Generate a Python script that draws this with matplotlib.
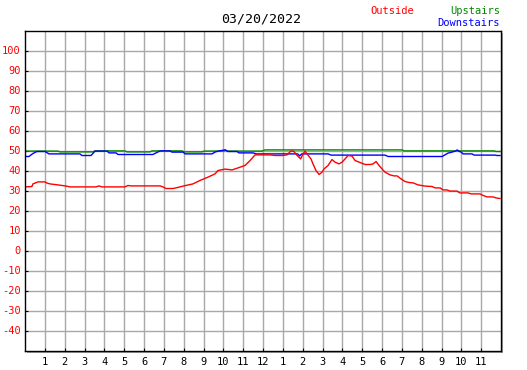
import matplotlib
matplotlib.use("Agg")
import matplotlib.pyplot as plt
from matplotlib.patches import Rectangle
from matplotlib.transforms import ScaledTranslation

title = "03/20/2022"

out_hours = [0.0, 0.35, 0.40, 0.66, 1.01, 1.11, 1.26, 1.66, 2.02, 2.27, 3.58, 3.73, 3.88,
             5.04, 5.19, 5.35, 6.81, 6.96, 7.11, 7.46, 7.61, 7.97, 8.47, 8.82, 9.23, 9.58,
             9.73, 10.09, 10.44, 10.74, 11.09, 11.35, 11.60, 12.35, 12.61, 12.96, 13.21,
             13.41, 13.56, 13.72, 13.90, 14.02, 14.12, 14.22, 14.42, 14.52, 14.67, 14.83,
             14.98, 15.08, 15.28, 15.48, 15.63, 15.83, 15.99, 16.14, 16.29, 16.49, 16.64,
             16.84, 17.15, 17.40, 17.55, 17.70, 17.85, 18.00, 18.15, 18.41, 18.61, 18.76,
             18.96, 19.16, 19.36, 19.57, 19.82, 20.17, 20.52, 20.68, 20.93, 21.08, 21.28,
             21.43, 21.78, 21.93, 22.34, 22.49, 22.94, 23.10, 23.30, 23.60, 23.75, 23.95]
out_vals = [31.8, 32.0, 33.3, 34.3, 34.3, 33.7, 33.3, 32.8, 32.3, 31.8, 31.8, 32.3, 31.8,
            31.8, 32.5, 32.3, 32.3, 31.8, 31.0, 31.0, 31.3, 32.2, 33.3, 35.0, 36.7, 38.3,
            40.0, 40.7, 40.3, 41.3, 42.5, 45.0, 47.8, 47.8, 47.5, 47.5, 47.8,
            49.8, 49.5, 47.5, 45.8, 48.3, 49.7, 48.3, 45.8, 43.3, 40.0, 38.0,
            39.2, 40.8, 42.5, 45.5, 44.2, 43.3, 44.2, 45.8, 47.5, 47.2, 45.0,
            44.2, 43.0, 43.0, 43.3, 44.5, 42.5, 40.8, 39.2, 37.8, 37.3, 37.3,
            35.8, 34.5, 34.0, 33.8, 32.8, 32.2, 32.0, 31.3, 31.3, 30.3, 30.3,
            29.7, 29.7, 28.8, 28.8, 28.3, 28.3, 27.5, 26.8, 26.8, 26.3, 26.0]

down_hours = [0.0, 0.2, 0.4, 0.6, 1.01, 1.21, 2.77, 2.87, 3.33, 3.53, 4.14, 4.24, 4.59,
              4.69, 6.45, 6.61, 6.81, 7.31, 7.41, 7.97, 8.07, 9.43, 9.58, 9.73, 10.09,
              10.24, 10.69, 10.79, 11.50, 11.65, 13.75, 13.85, 13.95, 15.28, 15.43,
              18.15, 18.31, 21.03, 21.33, 21.53, 21.78, 21.99, 22.09, 22.54, 22.64,
              23.70, 23.80, 23.95]
down_vals = [47.0, 47.0, 48.5, 49.5, 49.5, 48.3, 48.3, 47.5, 47.5, 49.7, 49.7, 48.8, 48.8,
             48.0, 48.0, 48.8, 49.8, 49.8, 49.2, 49.2, 48.3, 48.3, 49.2, 49.7, 50.3,
             49.5, 49.5, 48.8, 48.8, 48.3, 48.3, 47.3, 48.3, 48.3, 47.7,
             47.7, 47.0, 47.0, 48.7, 49.2, 50.0, 49.2, 48.3, 48.3, 47.7,
             47.7, 47.5, 47.5]

up_hours = [0.0, 1.66, 1.76, 3.43, 3.53, 5.04, 5.14, 6.30, 6.40, 7.92, 8.02, 8.93, 9.03,
            10.04, 10.09, 10.19, 11.95, 12.10, 19.01, 19.11, 21.73, 21.78, 21.89, 23.65,
            23.75, 23.95]
up_vals = [49.7, 49.7, 49.3, 49.3, 49.8, 49.8, 49.3, 49.3, 49.8, 49.8, 49.3, 49.3, 49.7,
           49.7, 50.3, 49.7, 49.7, 50.3, 50.3, 49.8, 49.8, 50.3, 49.8, 49.8,
           49.5, 49.5]

x_ticks = list(range(1, 24))
x_labels = ["1", "2", "3", "4", "5", "6", "7", "8", "9", "10", "11", "12",
            "1", "2", "3", "4", "5", "6", "7", "8", "9", "10", "11"]
y_ticks = list(range(-40, 101, 10))

mono = "DejaVu Sans Mono"
fig = plt.figure(figsize=(5.27, 3.70), dpi=100)
fig.patch.set_facecolor("white")
ax = fig.add_axes([25 / 527, 19.5 / 370, 476 / 527, 320 / 370])
ax.set_zorder(2)

# shadow
shadow = Rectangle((0, 0), 1, 1, transform=ax.transAxes + ScaledTranslation(2 / 100, -2 / 100, fig.dpi_scale_trans),
                   facecolor="#a0a0a0", edgecolor="none", zorder=-5)
fig.patches.append(shadow)

ax.set_xlim(0, 24)
ax.set_ylim(-50, 110)
for h in x_ticks:
    ax.axvline(h, color="#a8a8a8", lw=1.0, zorder=1)
for v in y_ticks:
    ax.axhline(v, color="#a8a8a8", lw=1.0, zorder=1)

ax.plot(up_hours, up_vals, color="#008800", lw=1.0, zorder=3)
ax.plot(down_hours, down_vals, color="#0000ff", lw=1.0, zorder=4)
ax.plot(out_hours, out_vals, color="#ff0000", lw=1.0, zorder=5)

ax.set_xticks(x_ticks)
ax.set_xticklabels(x_labels, fontfamily=mono, fontsize=7.5, color="black")
ax.set_yticks(y_ticks)
ax.set_yticklabels([str(v) for v in y_ticks], fontfamily=mono, fontsize=7.5, color="red")
ax.tick_params(axis="both", direction="in", length=2.5, width=0.8, color="black")
ax.tick_params(axis="x", pad=5)
ax.tick_params(axis="y", pad=3)
for s in ax.spines.values():
    s.set_color("black")
    s.set_linewidth(1.0)
    s.set_zorder(6)

fig.text(261 / 527, 1 - 19 / 370, title, ha="center", va="center", fontfamily=mono, fontsize=9.5)
fig.text(370 / 527, 1 - 11 / 370, "Outside", ha="left", va="center", fontfamily=mono, fontsize=7.5, color="red")
fig.text(500 / 527, 1 - 11 / 370, "Upstairs", ha="right", va="center", fontfamily=mono, fontsize=7.5, color="#008800")
fig.text(500 / 527, 1 - 23 / 370, "Downstairs", ha="right", va="center", fontfamily=mono, fontsize=7.5, color="#0000ff")

fig.savefig("out.png", dpi=100, facecolor="white")
